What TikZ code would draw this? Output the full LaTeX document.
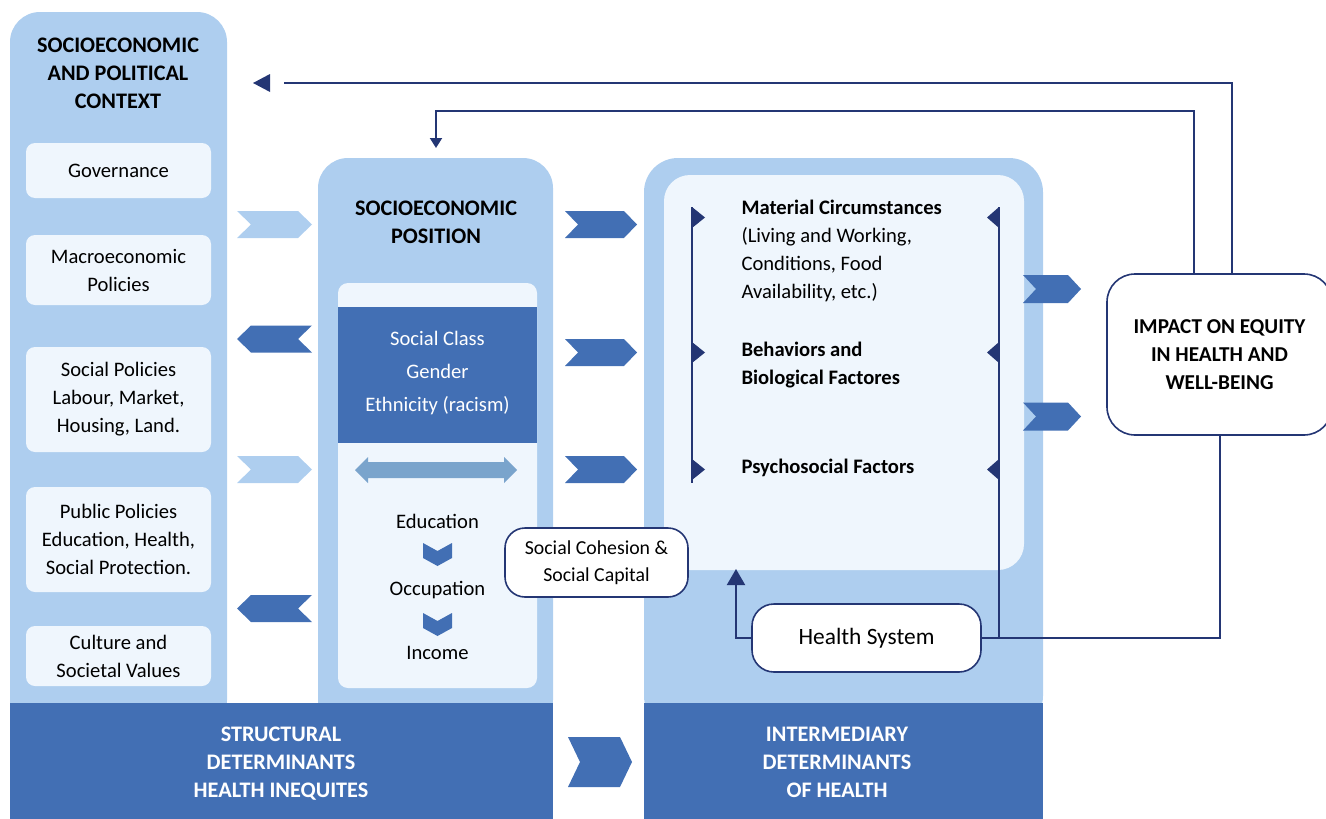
\documentclass[tikz,border=0pt]{standalone}
\usepackage{fontspec}
\setmainfont{Carlito}
\usepackage{tikz}
\usetikzlibrary{arrows.meta,positioning,calc}
\definecolor{ctxblue}{RGB}{174,206,239}
\definecolor{paleblue}{RGB}{239,246,253}
\definecolor{bandblue}{RGB}{66,111,180}
\definecolor{navy}{RGB}{36,54,116}
\definecolor{steelblue}{RGB}{122,164,204}
\newcommand{\txtfont}{\fontsize{20.6}{28}\selectfont}
\newcommand{\hdfont}{\fontsize{22.2}{28}\selectfont\bfseries}
% chevrons: colour, x left, y centre, width, half height, point depth
\newcommand{\chevright}[6]{\fill[#1] (#2,#3-#5) -- ++(#4-#6,0) -- ++(#6,#5)
  -- ++(-#6,#5) -- ++(-#4+#6,0) -- ++(#6,-#5) -- cycle;}
\newcommand{\chevleft}[6]{\fill[#1] (#2,#3) -- ++(#6,-#5) -- ++(#4-#6,0)
  -- ++(-#6,#5) -- ++(#6,#5) -- ++(-#4+#6,0) -- cycle;}
\newcommand{\chevdown}[2]{\fill[bandblue] (#1-14.5,#2) -- ++(14.5,8) -- ++(14.5,-8)
  -- ++(0,15) -- ++(-14.5,8) -- ++(-14.5,-8) -- cycle;}
\tikzset{
  ctxbox/.style={fill=paleblue,rounded corners=9pt,minimum width=185,
    inner sep=0pt,align=center,font=\txtfont},
  roundbox/.style={draw=navy,line width=1.6,fill=white,align=center,inner sep=0pt},
  feedback/.style={draw=navy,line width=2},
  headtxt/.style={align=center,font=\hdfont},
}
\begin{document}
\begin{tikzpicture}[x=1pt,y=-1pt]
  \useasboundingbox (0,0) rectangle (1326,819);
  %% columns
  \fill[ctxblue,rounded corners=30pt] (10,12) rectangle (227,730);
  \fill[ctxblue,rounded corners=30pt] (318,158) rectangle (553,730);
  \fill[ctxblue,rounded corners=34pt] (644,158) rectangle (1043,730);
  %% bottom bands
  \fill[bandblue] (10,703) rectangle (553,819);
  \fill[bandblue] (644,703) rectangle (1043,819);
  \node[headtxt,text=white] (structural) at (281,764)
    {STRUCTURAL\\DETERMINANTS\\HEALTH INEQUITES};
  \node[headtxt,text=white] (intermediary) at (837,762)
    {INTERMEDIARY\\DETERMINANTS\\OF HEALTH};
  \chevright{bandblue}{568}{762}{64}{25}{12}
  %% context column
  \node[headtxt] (context) at (118,73)
    {SOCIOECONOMIC\\AND POLITICAL\\CONTEXT};
  \node[ctxbox,minimum height=55] (gov) at (118.5,170.5) {Governance};
  \node[ctxbox,minimum height=70] (macro) at (118.5,270)
    {Macroeconomic\\Policies};
  \node[ctxbox,minimum height=105] (social) at (118.5,399.5)
    {Social Policies\\Labour, Market,\\Housing, Land.};
  \node[ctxbox,minimum height=105] (public) at (118.5,539.5)
    {Public Policies\\Education, Health,\\Social Protection.};
  \node[ctxbox,minimum height=60] (culture) at (118.5,656)
    {Culture and\\Societal Values};
  %% chevrons between context and position
  \chevright{ctxblue}{237}{224.5}{75}{13.5}{14}
  \chevleft{bandblue}{237}{339}{75}{13.5}{14}
  \chevright{ctxblue}{237}{469.5}{75}{13.5}{14}
  \chevleft{bandblue}{237}{608.5}{75}{13.5}{14}
  %% socioeconomic position
  \node[headtxt] (position) at (436,222) {SOCIOECONOMIC\\POSITION};
  \fill[paleblue,rounded corners=10pt] (338,283) rectangle (537,688);
  \fill[bandblue] (338,307) rectangle (537,443);
  \node[align=center,font=\txtfont\linespread{1.18}\selectfont,text=white] (classes)
    at (437.5,373) {Social Class\\Gender\\Ethnicity (racism)};
  \fill[steelblue] (355,470) -- (368,457) -- (368,462) -- (504,462) -- (504,457)
    -- (517,470) -- (504,483) -- (504,478) -- (368,478) -- (368,483) -- cycle;
  \node[font=\txtfont] (education) at (437.5,521) {Education};
  \chevdown{437.5}{543}
  \node[font=\txtfont] (occupation) at (437.5,590) {Occupation};
  \chevdown{437.5}{613}
  \node[font=\txtfont] (income) at (437.5,653) {Income};
  %% chevrons between position and intermediary
  \chevright{bandblue}{565}{224.5}{72}{13.5}{13}
  \chevright{bandblue}{565}{352.5}{72}{13.5}{13}
  \chevright{bandblue}{565}{469.5}{72}{13.5}{13}
  %% intermediary determinants
  \fill[paleblue,rounded corners=26pt] (664,175) rectangle (1024,570);
  \node[anchor=west,align=left,font=\txtfont] (material) at (738,250.5)
    {\textbf{Material Circumstances}\\(Living and Working,\\Conditions, Food\\Availability, etc.)};
  \node[anchor=west,align=left,font=\txtfont\bfseries] (behaviors) at (738,365)
    {Behaviors and\\Biological Factores};
  \node[anchor=west,font=\txtfont\bfseries] (psycho) at (738,468)
    {Psychosocial Factors};
  \draw[navy,line width=2] (692,207) -- (692,483);
  \foreach \ty in {207,342,459}
    \fill[navy] (692,\ty) -- (705,\ty+10.5) -- (692,\ty+21) -- cycle;
  \foreach \ty in {207,342,459}
    \fill[navy] (999,\ty) -- (987,\ty+10.5) -- (999,\ty+21) -- cycle;
  \coordinate (rline) at (999,207);
  \coordinate (hsjoin) at (999,637);
  \draw[navy,line width=2] (rline) -- (hsjoin);
  %% chevrons to impact
  \chevright{bandblue}{1023}{289}{58}{14}{13}
  \chevright{bandblue}{1023}{416.5}{58}{14}{13}
  %% round boxes
  \node[roundbox,rounded corners=20pt,minimum width=183,minimum height=69,
    font=\fontsize{19.8}{27}\selectfont] (cohesion) at (596.5,562.5)
    {Social Cohesion \&\\Social Capital};
  \node[roundbox,rounded corners=22pt,minimum width=229,minimum height=68,
    font=\fontsize{23.4}{28}\selectfont] (health) at (866.5,638) {Health System};
  \node[roundbox,rounded corners=28pt,minimum width=225,minimum height=161,
    font=\fontsize{21.2}{28}\selectfont\bfseries] (impact) at (1219.5,354.5)
    {IMPACT ON EQUITY\\IN HEALTH AND\\WELL-BEING};
  %% feedback lines
  \coordinate (fb1) at (284,83);
  \draw[feedback] (impact.north -| 1232,0) |- (fb1);
  \fill[navy] (270,74) -- (253,83) -- (270,92) -- cycle;
  \coordinate (fb2) at (436,148);
  \draw[feedback,-{Triangle[length=10,width=12]}] (impact.north -| 1194,0)
    |- (436,111) -- (fb2);
  \draw[feedback] (impact.south -| 1220,0) |- (health.east);
  \coordinate (inner) at (736,569);
  \draw[feedback,-{Triangle[length=16,width=18]}] (health.west) -| (inner);
\end{tikzpicture}
\end{document}
